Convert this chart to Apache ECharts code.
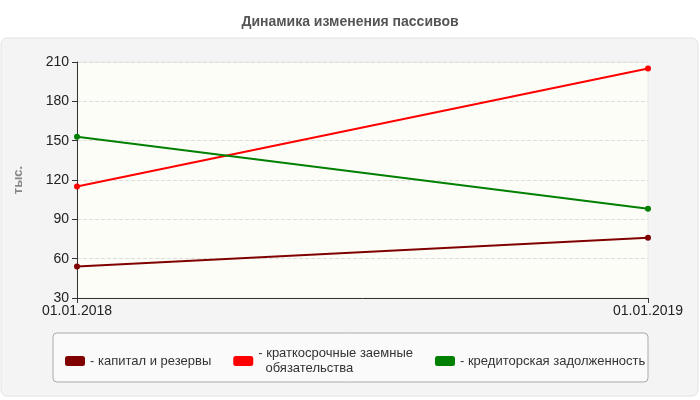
<html>
<head>
  <meta charset="utf-8">
  <title>passivy</title>
</head>
<body style="margin:0;background:#fff;">
<div id="main" style="width:700px;height:400px;"></div>
<script src="https://cdn.jsdelivr.net/npm/echarts@6/dist/echarts.min.js"></script>
<script>
  var dates = ['01.01.2018', '01.01.2019'];
  var kapital = [54, 76];
  var kratkosroch = [115, 205];
  var kreditor = [153, 98];
  var names = ['капитал и резервы', 'краткосрочные заемные\nобязательства', 'кредиторская задолженность'];
  var colors = ['#800000', '#ff0000', '#008000'];

  var myChart = echarts.init(document.getElementById('main'));

  function line(name, data, color) {
    return {
      name: name, type: 'line', data: data,
      symbol: 'circle', symbolSize: 6,
      lineStyle: {width: 2, color: color},
      itemStyle: {color: color}
    };
  }

  myChart.setOption({
    animation: false,
    textStyle: {fontFamily: 'Arial, Liberation Sans'},
    title: {
      text: 'Динамика изменения пассивов', left: 'center', top: 10,
      textStyle: {fontSize: 14, fontWeight: 'bold', color: '#555'}
    },
    graphic: [
      {type: 'rect', z: -10, shape: {x: 1, y: 38, width: 697, height: 358, r: 6},
        style: {fill: '#f4f4f4', stroke: '#e2e2e2'}},
      {type: 'rect', z: -9, shape: {x: 53, y: 333, width: 595, height: 49, r: 4},
        style: {fill: '#fafafa', stroke: '#aaa'}}
    ],
    legend: {
      left: 60, top: 341, itemGap: 22,
      icon: 'roundRect', itemWidth: 20, itemHeight: 10,
      formatter: function (n) { return '- ' + n.replace('\n', '\n  '); },
      textStyle: {fontSize: 13, color: '#333', lineHeight: 15, verticalAlign: 'top'},
      data: names
    },
    grid: {left: 77, right: 52, top: 62, bottom: 102, show: true,
      backgroundColor: '#fdfdf8', borderColor: '#e8e8e8'},
    xAxis: {
      type: 'category', data: dates, boundaryGap: false,
      axisLine: {lineStyle: {color: '#333'}},
      axisTick: {show: true, alignWithLabel: true, lineStyle: {color: '#333'}},
      axisLabel: {color: '#222', fontSize: 14, margin: 6, showMinLabel: true, showMaxLabel: true},
      splitLine: {show: false}
    },
    yAxis: {
      type: 'value', min: 30, max: 210, interval: 30,
      name: 'тыс.', nameLocation: 'middle', nameGap: 52,
      nameTextStyle: {color: '#888', fontWeight: 'bold', fontSize: 13},
      axisLine: {show: true, lineStyle: {color: '#333'}},
      axisTick: {show: true, lineStyle: {color: '#333'}},
      axisLabel: {color: '#222', fontSize: 14},
      splitLine: {lineStyle: {color: '#ddd', type: 'dashed'}}
    },
    series: [
      line(names[0], kapital, colors[0]),
      line(names[1], kratkosroch, colors[1]),
      line(names[2], kreditor, colors[2])
    ]
  });
</script>
</body>
</html>
